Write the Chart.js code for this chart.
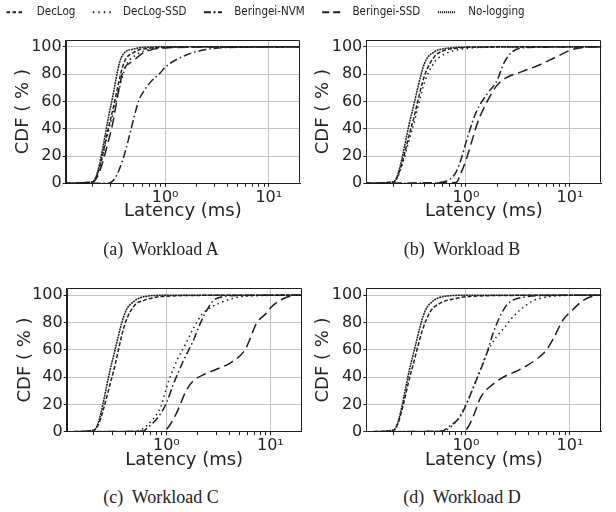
<!DOCTYPE html>
<html><head><meta charset="utf-8">
<script src="https://cdn.jsdelivr.net/npm/chart.js@4"></script>
<style>
html,body{margin:0;padding:0;background:#fff;}
body{width:616px;height:512px;position:relative;overflow:hidden;}
.box{position:absolute;}
.cap{position:absolute;font-family:"Liberation Serif",serif;font-size:18px;line-height:18px;color:#222;white-space:pre;transform:translateX(-50%);}
</style></head><body>
<div class="box" style="left:-11.5px;top:-11.5px;width:650px;height:120px"><canvas id="leg"></canvas></div>
<div class="box" style="left:0;top:0;width:308px;height:235px"><canvas id="cA"></canvas></div>
<div class="box" style="left:308px;top:0;width:308px;height:235px"><canvas id="cB"></canvas></div>
<div class="box" style="left:0;top:248px;width:308px;height:235px"><canvas id="cC"></canvas></div>
<div class="box" style="left:308px;top:248px;width:308px;height:235px"><canvas id="cD"></canvas></div>
<div class="cap" style="left:161px;top:240px">(a)  Workload A</div>
<div class="cap" style="left:462px;top:240px">(b)  Workload B</div>
<div class="cap" style="left:161px;top:488px">(c)  Workload C</div>
<div class="cap" style="left:462px;top:488px">(d)  Workload D</div>
<script>
// ---- data ----
const seriesNames = ['DecLog', 'DecLog-SSD', 'Beringei-NVM', 'Beringei-SSD', 'No-logging'];
const xTickValues = [0.2,0.3,0.4,0.5,0.6,0.7,0.8,0.9,1,2,3,4,5,6,7,8,9,10];
const xTickLabels = {1: '10⁰', 10: '10¹'};
const yTickValues = [0, 20, 40, 60, 80, 100];

// Workload A
const declogA = [[0.1,0],[0.2,1],[0.3,48],[0.4,88],[0.5,96],[0.7,99],[1,99.7],[2,100],[20,100]];
const declogSsdA = [[0.1,0],[0.2,1],[0.3,45],[0.42,86],[0.5,93],[0.7,98],[1,99.5],[2,100],[20,100]];
const beringeiNvmA = [[0.1,0],[0.28,0],[0.33,4],[0.39,17],[0.45,34],[0.5,48],[0.56,61],[0.63,68],[0.73,74.5],[0.9,81],[1,85],[1.6,94],[2.5,98],[4,99.5],[20,100]];
const beringeiSsdA = [[0.1,0],[0.2,1],[0.3,38],[0.39,81],[0.5,90],[0.6,95],[0.8,98.5],[1,99.2],[2,99.8],[20,100]];
const noLoggingA = [[0.1,0],[0.2,1],[0.3,57],[0.38,92.5],[0.5,98.5],[0.7,99.8],[1,100],[20,100]];

// Workload B
const declogB = [[0.1,0],[0.2,1],[0.3,42],[0.4,79],[0.5,93],[0.6,97],[0.8,99],[1,99.6],[2,100],[20,100]];
const declogSsdB = [[0.1,0],[0.2,1],[0.3,38],[0.4,74],[0.5,89],[0.6,94],[0.8,97.5],[1,98.8],[2,99.8],[20,100]];
const beringeiNvmB = [[0.1,0],[0.5,0.3],[0.6,1],[0.7,3],[0.8,8],[0.9,18],[1,30],[1.25,52],[1.65,67],[1.95,74],[2.35,89],[2.8,96.5],[4,99.5],[20,100]];
const beringeiSsdB = [[0.1,0],[0.8,0.5],[0.9,8],[1,17],[1.15,32],[1.3,45],[1.6,60],[1.95,71],[2.4,77],[3.5,82],[5,86.5],[7.3,92.5],[10.5,98],[15,99.8],[20,100]];
const noLoggingB = [[0.1,0],[0.2,1],[0.3,51],[0.4,88],[0.5,96.5],[0.6,98.5],[0.8,99.5],[1,99.8],[20,100]];

// Workload C
const declogC = [[0.1,0],[0.2,1],[0.3,40],[0.4,79],[0.5,93],[0.6,96],[0.8,98.5],[1,99.2],[2,99.8],[20,100]];
const declogSsdC = [[0.1,0],[0.5,0.3],[0.6,2.5],[0.73,8.5],[0.88,18],[1.05,37],[1.26,52],[1.5,63],[1.8,75],[2.2,86],[2.6,90.5],[3.2,94],[4.3,97.5],[6,99.3],[20,100]];
const beringeiNvmC = [[0.1,0],[0.6,0.5],[0.65,2.5],[0.84,11],[1,21],[1.17,35],[1.46,52],[1.82,67],[2.11,79],[2.45,89],[2.83,96],[3.5,98.8],[5,99.7],[20,100]];
const beringeiSsdC = [[0.1,0],[0.9,0],[1,1.5],[1.24,13],[1.55,30],[1.8,37],[2.4,42.5],[3,45.5],[4.25,51],[5.7,60],[6.3,67],[7.3,79],[9.2,87],[10.1,91],[12.6,96.5],[18,100],[20,100]];
const noLoggingC = [[0.1,0],[0.2,1],[0.3,51],[0.4,87],[0.5,96],[0.65,99.2],[1,99.9],[20,100]];

// Workload D
const declogD = [[0.1,0],[0.2,1],[0.3,45],[0.38,74],[0.45,87.5],[0.56,94],[0.8,97.6],[1,98.8],[2,99.7],[20,100]];
const declogSsdD = [[0.1,0],[0.6,0.5],[0.7,3],[0.85,10],[1,20],[1.26,38],[1.58,57],[1.96,69.5],[2.27,75],[2.75,83],[3.3,89],[4.4,95.8],[5.9,98.5],[8,99.6],[20,100]];
const beringeiNvmD = [[0.1,0],[0.6,0.5],[0.65,2.5],[0.88,11],[1,19.5],[1.26,38],[1.58,57],[1.82,72],[2.11,84],[2.45,92.5],[2.83,96.3],[3.8,98.8],[6,99.7],[20,100]];
const beringeiSsdD = [[0.1,0],[0.9,0],[1.02,2],[1.2,13],[1.38,25],[1.8,34.5],[2.5,41.5],[3.1,44.5],[4.75,53],[5.9,59.5],[6.9,68],[8.6,82],[10.7,89.5],[13.3,96],[16.6,99.3],[20,100]];
const noLoggingD = [[0.1,0],[0.2,1],[0.3,52],[0.4,87.5],[0.5,96.5],[0.65,99.3],[1,99.9],[20,100]];

// ---- styles ----
const INK = '#1e1e1e';
const dashes = [[4,2],[1.5,3.5],[8,3,1.5,3],[10,5],[2,0.7]];
const legendDashes = [[3.5,2.5],[1.5,4],[7,2.5,2,2.5],[7,4],[1.2,0.8]];
const FONT = 'DejaVu Sans';

const frame = {
  id: 'frame',
  afterDraw(ch) {
    const a = ch.chartArea, c = ch.ctx;
    c.save();
    c.strokeStyle = INK; c.lineWidth = 1;
    const l = Math.round(a.left) + 0.5, r = Math.round(a.right) - 0.5, t = Math.round(a.top) + 0.5, b = Math.round(a.bottom) - 0.5;
    c.beginPath();
    c.moveTo(l, b); c.lineTo(l, t); c.lineTo(r, t); c.lineTo(r, b);
    c.stroke();
    c.restore();
  }
};

function makeDatasets(list) {
  return list.map((pts, i) => ({
    label: seriesNames[i],
    data: pts.map(p => ({x: p[0], y: p[1]})),
    borderColor: INK,
    backgroundColor: INK,
    borderWidth: 1.5,
    borderDash: dashes[i],
    pointRadius: 0,
    fill: false,
    cubicInterpolationMode: 'monotone'
  }));
}

function makePanel(id, list, g) {
  new Chart(document.getElementById(id), {
    type: 'line',
    data: {datasets: makeDatasets(list)},
    options: {
      animation: false, responsive: true, maintainAspectRatio: false,
      layout: {padding: {left: 0, right: g.padR, top: g.top, bottom: 0}},
      plugins: {legend: {display: false}, tooltip: {enabled: false}},
      scales: {
        x: {
          type: 'logarithmic', min: 0.11, max: 20,
          afterBuildTicks: s => { s.ticks = xTickValues.map(v => ({value: v})); },
          afterFit: s => { s.height = g.xh; },
          ticks: {autoSkip: false, maxRotation: 0, padding: 1,
            callback: v => xTickLabels[v] || '',
            font: {family: FONT, size: 16}, color: '#222'},
          grid: {color: c => (c.tick && (c.tick.value === 1 || c.tick.value === 10)) ? '#c2c2c2' : 'rgba(0,0,0,0)',
            tickColor: INK, tickLength: 3.5, lineWidth: 1},
          border: {color: INK, width: 1},
          title: {display: true, text: 'Latency (ms)', font: {family: FONT, size: 18}, color: '#222',
            padding: {top: 0, bottom: g.xtp}}
        },
        y: {
          min: 0, max: 105,
          afterBuildTicks: s => { s.ticks = yTickValues.map(v => ({value: v})); },
          afterFit: s => { s.width = g.left; },
          ticks: {padding: 1, font: {family: FONT, size: 16}, color: '#222'},
          grid: {color: '#c2c2c2', tickColor: INK, tickLength: 3, lineWidth: 1},
          border: {color: INK, width: 1},
          title: {display: true, text: 'CDF ( % )', font: {family: FONT, size: 18}, color: '#222',
            padding: {top: g.ytp, bottom: 0}}
        }
      }
    },
    plugins: [frame]
  });
}

makePanel('cA', [declogA, declogSsdA, beringeiNvmA, beringeiSsdA, noLoggingA], {left: 65.7, padR: 8, top: 40, xh: 51.7, ytp: 12.5, xtp: 12.5});
makePanel('cB', [declogB, declogSsdB, beringeiNvmB, beringeiSsdB, noLoggingB], {left: 58.3, padR: 14.7, top: 40, xh: 51.7, ytp: 4.2, xtp: 12.5});
makePanel('cC', [declogC, declogSsdC, beringeiNvmC, beringeiSsdC, noLoggingC], {left: 66.7, padR: 6.3, top: 40.3, xh: 51.3, ytp: 14.2, xtp: 12.2});
makePanel('cD', [declogD, declogSsdD, beringeiNvmD, beringeiSsdD, noLoggingD], {left: 58.3, padR: 14.7, top: 40.3, xh: 51.3, ytp: 4.2, xtp: 12.2});

// legend
new Chart(document.getElementById('leg'), {
  type: 'line',
  data: {datasets: seriesNames.map((n, i) => ({label: n, data: [], borderColor: INK, backgroundColor: INK, borderWidth: 2, borderDash: legendDashes[i]}))},
  options: {
    animation: false, responsive: true, maintainAspectRatio: false,
    layout: {padding: 0},
    scales: {x: {display: false}, y: {display: false}},
    plugins: {
      tooltip: {enabled: false},
      legend: {
        display: true, position: 'top', align: 'start',
        labels: {
          usePointStyle: true, pointStyle: 'line', pointStyleWidth: 18,
          font: {family: 'DejaVu Sans Condensed', size: 11.5}, color: '#222', padding: 17.5,
          generateLabels: ch => Chart.defaults.plugins.legend.labels.generateLabels(ch).map((l, i) => Object.assign(l, {
            text: '  ' + l.text, lineWidth: 2, strokeStyle: INK, lineDash: legendDashes[l.datasetIndex]
          }))
        }
      }
    }
  }
});
</script>
</body></html>
